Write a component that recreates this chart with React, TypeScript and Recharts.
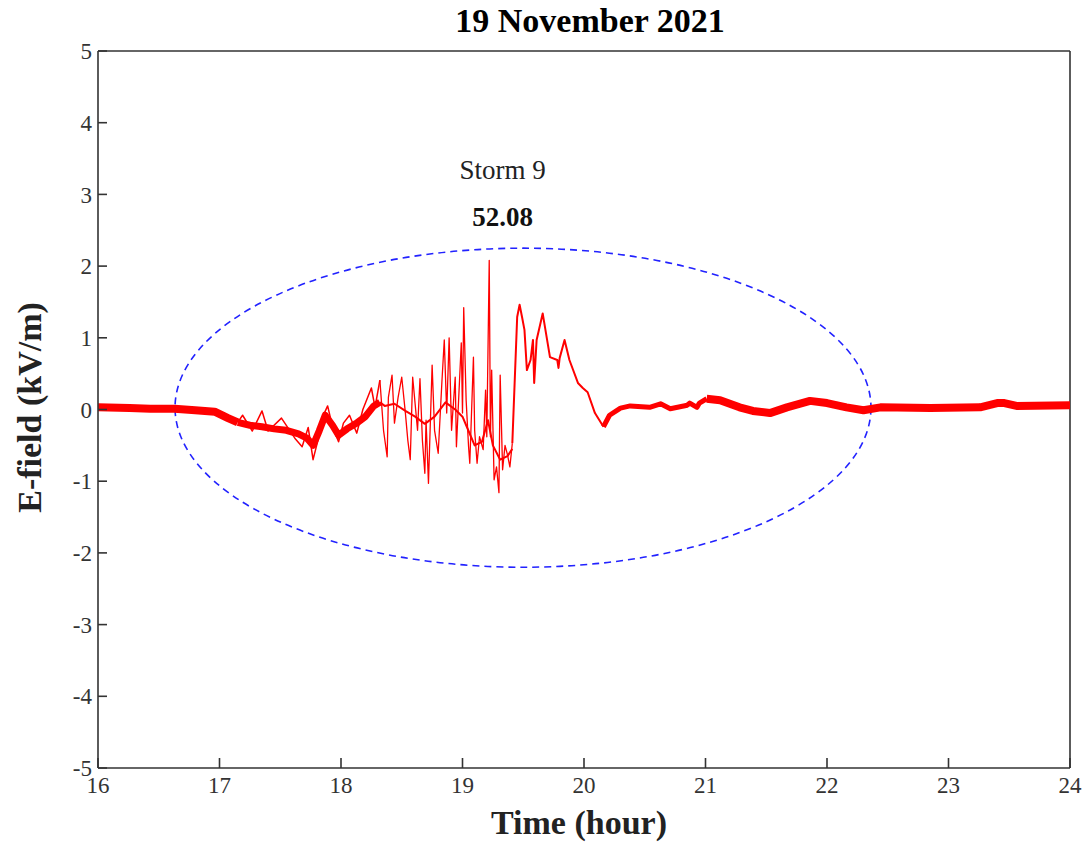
import { Label, Line, LineChart, ReferenceArea, ReferenceDot, ReferenceLine, XAxis, YAxis } from "recharts";

const hourTicks = [16, 17, 18, 19, 20, 21, 22, 23, 24];
const fieldTicks = [-5, -4, -3, -2, -1, 0, 1, 2, 3, 4, 5];

// quiet morning, before the storm
const calmBeforeTime = [16.0, 16.26, 16.43, 16.63, 16.8, 16.96, 17.07, 17.15];
const calmBeforeField = [0.03, 0.02, 0.01, 0.01, -0.01, -0.03, -0.12, -0.18];

// build-up: the mean trace and the spikes around it
const buildUpTrendTime = [
  17.15, 17.25, 17.35, 17.45, 17.55, 17.65, 17.72, 17.77, 17.82, 17.87, 17.93, 17.98, 18.05, 18.12, 18.2, 18.27, 18.32,
];
const buildUpTrendField = [
  -0.18, -0.22, -0.24, -0.27, -0.29, -0.34, -0.4, -0.5, -0.3, -0.08, -0.22, -0.36, -0.27, -0.2, -0.1, 0.05, 0.1,
];
const buildUpSpikeTime = [
  17.15, 17.19, 17.27, 17.35, 17.4, 17.51, 17.62, 17.68, 17.73, 17.77, 17.81, 17.85, 17.89, 17.93, 17.98, 18.02,
  18.07, 18.13, 18.18, 18.25, 18.28, 18.32,
];
const buildUpSpikeField = [
  -0.18, -0.08, -0.3, -0.02, -0.3, -0.12, -0.4, -0.52, -0.25, -0.7, -0.43, -0.1, 0.05, -0.24, -0.45, -0.19, -0.08,
  -0.33, 0.0, 0.3, 0.03, 0.41,
];

// storm 9: dense core of the noise
const stormCoreTime = [
  18.32, 18.36, 18.44, 18.53, 18.61, 18.69, 18.77, 18.86, 18.94, 19.0, 19.05, 19.1, 19.16, 19.21, 19.25, 19.31, 19.37,
  19.41,
];
const stormCoreField = [
  0.1, 0.05, 0.08, -0.02, -0.1, -0.2, -0.1, 0.1, 0.0, -0.1, -0.3, -0.5, -0.45, -0.15, -0.5, -0.7, -0.65, -0.55,
];

// storm 9: individual spikes
const stormSpikeTime = [
  18.32, 18.35, 18.38, 18.39, 18.42, 18.44, 18.47, 18.5, 18.53, 18.55, 18.57, 18.59, 18.63, 18.65, 18.67, 18.69, 18.7,
  18.72, 18.75, 18.77, 18.8, 18.83, 18.85, 18.87, 18.89, 18.91, 18.94, 18.95, 18.99, 19.0, 19.01, 19.03, 19.05, 19.06,
  19.09, 19.1, 19.12, 19.14, 19.17, 19.19, 19.2, 19.22, 19.23, 19.24, 19.26, 19.28, 19.3, 19.31, 19.33, 19.35, 19.37,
  19.39, 19.41,
];
const stormSpikeField = [
  0.41, -0.29, -0.66, 0.17, 0.48, -0.19, 0.17, 0.45, -0.05, -0.43, -0.7, 0.45, -0.29, 0.43, -0.43, -0.89, -0.15, -1.03,
  0.62, -0.29, -0.61, 0.37, 0.97, -0.05, 1.0, -0.29, 0.45, -0.52, 0.93, -0.05, 1.42, 0.13, -0.52, -0.75, 0.73, -0.29,
  -0.75, -0.38, -0.56, 0.27, -0.38, 2.08, -0.38, 0.55, -0.98, -0.8, -1.16, 0.48, -0.84, -0.5, -0.63, -0.8, -0.47,
];

// main peaks and the decay back to fair weather
const decayTime = [
  19.41, 19.45, 19.47, 19.49, 19.51, 19.53, 19.56, 19.58, 19.59, 19.61, 19.66, 19.72, 19.78, 19.79, 19.8, 19.84, 19.88,
  19.95, 19.99, 20.03, 20.09, 20.16,
];
const decayField = [
  -0.47, 1.29, 1.46, 1.29, 1.11, 0.55, 0.69, 0.97, 0.37, 0.97, 1.34, 0.73, 0.69, 0.58, 0.72, 0.97, 0.69, 0.37, 0.3,
  0.24, -0.05, -0.24,
];

// recovery
const recoveryTime = [20.16, 20.21, 20.3, 20.38, 20.54, 20.63, 20.71, 20.85, 20.87, 20.93, 20.95, 21.01];
const recoveryField = [-0.24, -0.08, 0.02, 0.05, 0.03, 0.08, 0.01, 0.06, 0.09, 0.03, 0.09, 0.15];

// quiet evening
const calmAfterTime = [
  21.01, 21.12, 21.28, 21.39, 21.53, 21.67, 21.86, 22.0, 22.16, 22.3, 22.44, 22.85, 23.26, 23.4, 23.46, 23.56, 24.0,
];
const calmAfterField = [
  0.15, 0.13, 0.03, -0.02, -0.05, 0.03, 0.12, 0.09, 0.03, -0.01, 0.03, 0.02, 0.03, 0.09, 0.09, 0.05, 0.06,
];

const stormWindow = { start: 16.634, end: 22.362, low: -2.2, high: 2.25 };
const stormName = "Storm 9";
const stormScore = "52.08";

const toPoints = (times: number[], values: number[]) => times.map((t, i) => ({ t, v: values[i] }));

const serif = '"Liberation Serif", "Times New Roman", serif';
const axisColor = "#333333";
const lineRed = "#ff0000";

function StormEllipse(props: any) {
  const { x, y, width, height } = props;
  return (
    <ellipse
      cx={x + width / 2}
      cy={y + height / 2}
      rx={width / 2}
      ry={height / 2}
      fill="none"
      stroke="#2222ff"
      strokeWidth={1.6}
      strokeDasharray="7 5"
    />
  );
}

export default function App() {
  const segments = [
    { data: toPoints(calmBeforeTime, calmBeforeField), width: 8 },
    { data: toPoints(buildUpTrendTime, buildUpTrendField), width: 7 },
    { data: toPoints(buildUpSpikeTime, buildUpSpikeField), width: 1.5 },
    { data: toPoints(stormCoreTime, stormCoreField), width: 2 },
    { data: toPoints(stormSpikeTime, stormSpikeField), width: 1.3 },
    { data: toPoints(decayTime, decayField), width: 2 },
    { data: toPoints(recoveryTime, recoveryField), width: 5 },
    { data: toPoints(calmAfterTime, calmAfterField), width: 8 },
  ];

  return (
    <div style={{ position: "absolute", left: 0, top: 0, width: 1091, height: 846, background: "#fff" }}>
      <div
        style={{
          position: "absolute",
          left: 590,
          top: 1,
          transform: "translateX(-50%)",
          fontFamily: serif,
          fontWeight: 700,
          fontSize: 34,
          lineHeight: "40px",
          whiteSpace: "nowrap",
          color: "#000",
        }}
      >
        19 November 2021
      </div>
      <LineChart width={1091} height={846} margin={{ top: 51, right: 21, bottom: 28, left: 38 }}>
        <XAxis
          dataKey="t"
          type="number"
          domain={[16, 24]}
          ticks={hourTicks}
          allowDataOverflow
          height={50}
          stroke={axisColor}
          strokeWidth={1.6}
          tickSize={-10}
          tickMargin={19}
          tick={{ fill: axisColor, fontSize: 23, fontFamily: serif }}
        >
          <Label
            value="Time (hour)"
            position="center"
            dx={-5}
            dy={29}
            style={{ fontFamily: serif, fontWeight: 700, fontSize: 34, fill: "#222" }}
          />
        </XAxis>
        <YAxis
          type="number"
          domain={[-5, 5]}
          ticks={fieldTicks}
          allowDataOverflow
          width={60}
          stroke={axisColor}
          strokeWidth={1.6}
          tickSize={-9}
          tickMargin={15}
          tick={{ fill: axisColor, fontSize: 23, fontFamily: serif }}
        >
          <Label
            value="E-field (kV/m)"
            position="center"
            angle={-90}
            dx={-39}
            dy={-2}
            style={{ fontFamily: serif, fontWeight: 700, fontSize: 34, fill: "#222" }}
          />
        </YAxis>
        <ReferenceLine y={5} stroke={axisColor} strokeWidth={1.6} />
        <ReferenceLine x={24} stroke={axisColor} strokeWidth={1.6} />
        {segments.map((seg, i) => (
          <Line
            key={i}
            data={seg.data}
            dataKey="v"
            type="linear"
            stroke={lineRed}
            strokeWidth={seg.width}
            strokeLinejoin="round"
            dot={false}
            activeDot={false}
            isAnimationActive={false}
          />
        ))}
        <ReferenceArea
          x1={stormWindow.start}
          x2={stormWindow.end}
          y1={stormWindow.low}
          y2={stormWindow.high}
          shape={StormEllipse}
          isFront
        />
        <ReferenceDot
          x={19.33}
          y={3.34}
          r={0}
          shape={(p: any) => (
            <text
              x={p.cx}
              y={p.cy}
              textAnchor="middle"
              dominantBaseline="central"
              fontFamily={serif}
              fontSize={27}
              fill="#222"
            >
              {stormName}
            </text>
          )}
        />
        <ReferenceDot
          x={19.33}
          y={2.68}
          r={0}
          shape={(p: any) => (
            <text
              x={p.cx}
              y={p.cy}
              textAnchor="middle"
              dominantBaseline="central"
              fontFamily={serif}
              fontSize={27}
              fontWeight={700}
              fill="#111"
            >
              {stormScore}
            </text>
          )}
        />
      </LineChart>
    </div>
  );
}
